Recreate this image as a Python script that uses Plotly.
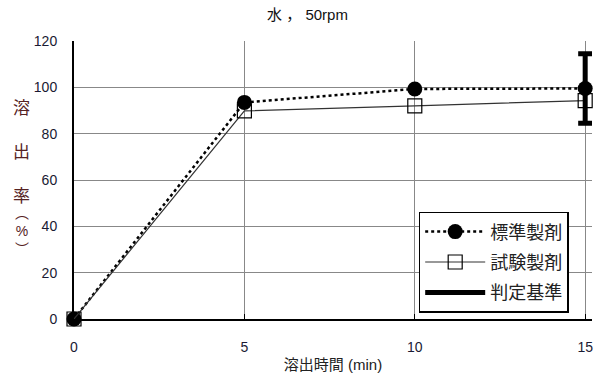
import plotly.graph_objects as go

time_min = [0, 5, 10, 15]
standard = [0, 93.5, 99.3, 99.5]
test = [0, 89.8, 92.0, 94.3]
criterion_time = [15]
criterion_center = [99.5]
criterion_half = [15]
x_ticks = [0, 5, 10, 15]
y_ticks = [0, 20, 40, 60, 80, 100, 120]

FONT = "Liberation Sans, Noto Sans CJK JP, sans-serif"

fig = go.Figure()
fig.add_trace(go.Scatter(
    x=time_min, y=standard, name="標準製剤", mode="lines+markers", legendgroup="a",
    cliponaxis=False,
    line=dict(color="black", width=2.5, dash="dot"),
    marker=dict(symbol="circle", size=15, color="black")))
fig.add_trace(go.Scatter(
    x=time_min, y=test, name="試験製剤", mode="lines+markers", legendgroup="b",
    cliponaxis=False,
    line=dict(color="#333333", width=1.2),
    marker=dict(symbol="square-open", size=14, color="black", line=dict(width=1.2))))
fig.add_trace(go.Scatter(
    x=criterion_time, y=criterion_center, mode="markers", showlegend=False, cliponaxis=False,
    marker=dict(size=1, color="rgba(0,0,0,0)"),
    error_y=dict(type="data", array=criterion_half, color="black", thickness=5, width=7)))
fig.add_trace(go.Scatter(
    x=[None], y=[None], name="判定基準", mode="lines", legendgroup="c",
    line=dict(color="black", width=5)))

fig.update_layout(
    width=603, height=381,
    margin=dict(l=74, r=10, t=41, b=60),
    plot_bgcolor="white", paper_bgcolor="white",
    font=dict(family=FONT, size=14, color="#1a1a33"),
    title=dict(text="水 ， 50rpm", x=0.51, xanchor="center", y=0.96, yanchor="middle",
               font=dict(size=15, color="#111")),
    legend=dict(x=0.955, y=0.022, xanchor="right", yanchor="bottom",
                bordercolor="black", borderwidth=1.5, bgcolor="white",
                font=dict(size=18, color="#222"), traceorder="grouped",
                itemwidth=60, tracegroupgap=4),
    showlegend=True,
)
fig.update_xaxes(range=[0, 15.2], tickvals=x_ticks, showgrid=True, gridcolor="#888", gridwidth=1,
                 showline=True, linecolor="black", linewidth=2, zeroline=False,
                 ticks="inside", ticklen=5, tickcolor="black", mirror=False,
                 ticklabelstandoff=14,
                 title=dict(text="溶出時間 (min)", font=dict(size=15, color="#222"), standoff=6))
fig.update_yaxes(range=[0, 120], tickvals=y_ticks, showgrid=True, gridcolor="#888", gridwidth=1,
                 showline=True, linecolor="black", linewidth=2, zeroline=False,
                 ticks="", ticklabelstandoff=12)
fig.add_annotation(text="溶<br><br>出<br><br>率", xref="paper", yref="paper",
                   x=-0.101, y=0.600, xanchor="center", yanchor="middle", showarrow=False,
                   font=dict(size=17, color="#552222"))
fig.add_annotation(text="︵<br>%<br>︶", xref="paper", yref="paper",
                   x=-0.101, y=0.315, xanchor="center", yanchor="middle", showarrow=False,
                   font=dict(size=14, color="#552222"))
fig.write_html("out.html", config={"displayModeBar": False},
               post_script="document.body.style.margin='0';")
